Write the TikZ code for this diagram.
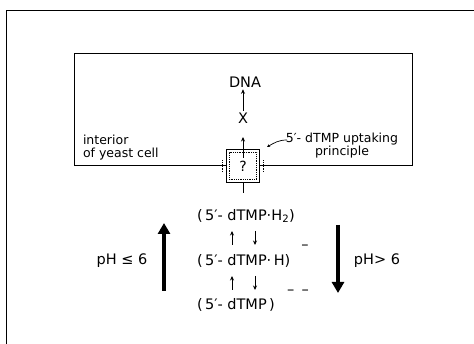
\documentclass[tikz,border=0pt]{standalone}
\usepackage{fontspec}
\setmainfont{DejaVu Sans}
\usetikzlibrary{positioning, arrows.meta}

\begin{document}
\begin{tikzpicture}[
        x=1pt, y=1pt,
        every node/.style={inner sep=0pt, outer sep=2pt},
        bigtext/.style={font=\fontsize{14.5}{17}\selectfont},
        smalltext/.style={font=\fontsize{12.5}{13}\selectfont, align=left},
        formula/.style={bigtext, anchor=west},
        porebox/.style={draw, line width=1.2pt, minimum size=33pt, font=\fontsize{14}{14}\selectfont},
        thinarrow/.style={-{Stealth[length=4.5pt, width=4pt]}, line width=1pt},
        bigarrow/.style={-{Triangle[length=11pt, width=12pt]}, line width=3.2pt}
    ]
        \useasboundingbox (0,0) rectangle (474,344);

        % outer frame
        \draw[line width=0.8pt] (6,0) -- (6,334) -- (474,334);

        % yeast cell with the pore
        \node[porebox, outer sep=0pt] (pore) at (243,178) {?};
        \draw[line width=1pt] (pore.west) -- (74,178) -- (74,290) -- (412,290) -- (412,178) -- (pore.east);
        \draw[densely dotted, line width=0.8pt] ([shift={(3,3)}]pore.south west) rectangle ([shift={(-3,-3)}]pore.north east);
        \draw[densely dotted, line width=0.8pt] ([xshift=-4pt]pore.west) ++(0,-6) -- ++(0,12)
            ([xshift=4pt]pore.east) ++(0,-6) -- ++(0,12);
        \draw[line width=1pt] (pore.south) -- ++(0,-11);
        \draw[thinarrow] (243,186) -- (243,207);

        \node[bigtext] (dna) at (245,262) {DNA};
        \node[bigtext] (xx) at (243,226) {X};
        \draw[thinarrow] (xx.north) -- (xx.north |- dna.south);

        \node[smalltext, anchor=north west] (interior) at (81,211) {interior\\of yeast cell};
        \node[smalltext, align=center] (uptake) at (342,198) {5′- dTMP uptaking\\principle};
        \draw[-{Stealth[open, length=3pt, width=3pt]}, line width=0.7pt] (287,204) to[out=180, in=30] (267,197);

        % dissociation states
        \node[formula] (acid) at (195,128) {(\,5′- dTMP·H\textsubscript{2})};
        \node[formula] (mono) at (195,83) {(\,5′- dTMP·\,H)};
        \node[formula] (base) at (195,39) {(\,5′- dTMP\,)};
        \node[bigtext] (minus) at (305,97) {–};
        \node[bigtext] (minus2) at (298,52) {–\ \,–};

        \draw[thinarrow, line width=0.8pt] (232,99) -- (232,113);
        \draw[thinarrow, line width=0.8pt] (255,113) -- (255,99);
        \draw[thinarrow, line width=0.8pt] (232,54) -- (232,68);
        \draw[thinarrow, line width=0.8pt] (255,68) -- (255,54);

        % pH arrows
        \draw[bigarrow] (164,53) -- (164,121);
        \draw[bigarrow] (338,119) -- (338,51);
        \node[bigtext] (phlow) at (122,83) {pH ≤ 6};
        \node[bigtext] (phhigh) at (377,83) {pH> 6};
    \end{tikzpicture}
\end{document}
